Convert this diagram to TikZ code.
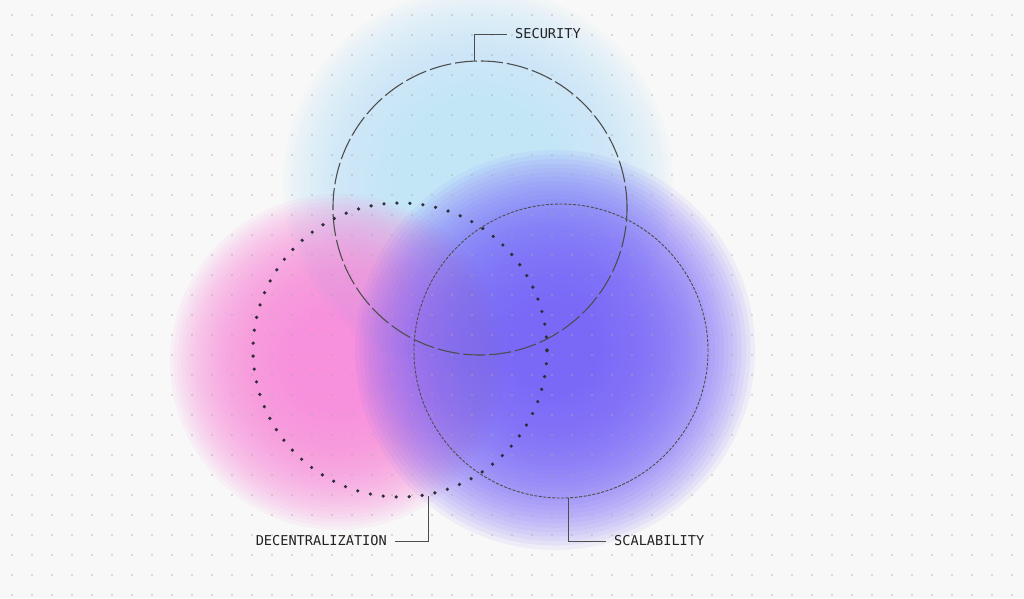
\documentclass[tikz,border=0pt]{standalone}
\usepackage{fontspec}
\newfontfamily\tagfont{DejaVu Sans Mono}
\usetikzlibrary{positioning}

\definecolor{bgcol}{HTML}{F8F8F8}
\definecolor{gridcol}{HTML}{A9A9A9}
\definecolor{linecol}{HTML}{4D4D4D}
\definecolor{dotcol}{HTML}{2E2E3A}
\definecolor{secblue}{HTML}{C3E6F7}
\definecolor{decpink}{HTML}{F790DD}
\definecolor{scapurple}{HTML}{7A68F7}
\definecolor{textcol}{HTML}{222222}

% soft blob: stacked see-through discs, #1 colour, #2 centre, #3 radius
\newcommand\softblob[3]{%
  \foreach \k in {1,...,45}
    \fill[#1, fill opacity=0.08] #2 circle ({#3*\k/45});
}

\tikzset{
  ring/.style={circle, minimum size=294, inner sep=0pt, draw=linecol, line width=1.1pt},
  tag/.style={font=\tagfont\fontsize{13.6}{16}\selectfont, text=textcol, inner xsep=8pt, inner ysep=0pt},
  leader/.style={draw=linecol, line width=1pt}
}

\begin{document}
\begin{tikzpicture}[x=1pt,y=-1pt]
% Background
  \fill[bgcol] (0,0) rectangle (1024,598);
  \useasboundingbox (0,0) rectangle (1024,598);
% Blobs
  \softblob{secblue}{(478,182)}{195}
  \softblob{decpink}{(338,362)}{168}
  \softblob{scapurple}{(555,350)}{200}
% Grid
  \foreach \i in {0,...,50}
    \foreach \j in {0,...,29}
      \fill[gridcol, opacity=0.8] (12+20*\i,15+20*\j) circle (0.9);
% Circles
  \node[ring, dash pattern=on 22pt off 4pt] (security) at (480,208) {};
  \node[ring, draw=dotcol, line width=3.6pt, line cap=round, dash pattern=on 0pt off 13pt] (decentral) at (400,350) {};
  \node[ring, line width=0.9pt, dash pattern=on 3pt off 1.5pt] (scalab) at (561,351) {};
% Labels
  \node[tag, anchor=west] (seclabel) at (507,34) {SECURITY};
  \node[tag, anchor=east] (declabel) at (395,541) {DECENTRALIZATION};
  \node[tag, anchor=west] (scalabel) at (606,541) {SCALABILITY};
%
  \draw[leader] (security.92.5) |- (seclabel.west);
  \draw[leader] (decentral.-79.4) |- (declabel.east);
  \draw[leader] (scalab.-87.3) |- (scalabel.west);
\end{tikzpicture}
\end{document}
